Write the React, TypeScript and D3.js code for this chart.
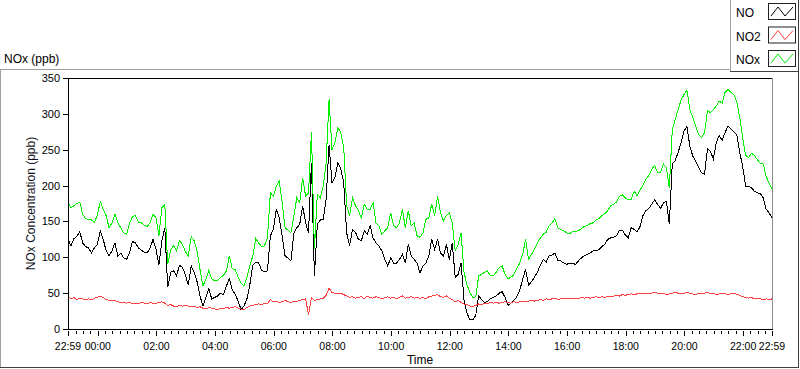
import React from 'react';
import * as d3 from 'd3';

// one sample every 6 minutes, 22:59 -> 22:59 next day
const startTime = new Date(Date.UTC(2015, 0, 1, 22, 59));
const stepMinutes = 6;

const seriesNames = ['NO', 'NO2', 'NOx'];
const seriesColors = ['#000000', '#ff4040', '#00f000'];

const noValues = [
  125, 116, 126, 129, 136, 120, 115, 113, 106, 113, 118, 137, 125, 109, 102, 109, 120, 102, 106, 99,
  97, 107, 122, 120, 113, 110, 107, 106, 113, 125, 111, 90, 123, 141, 58, 79, 81, 74, 89, 86,
  76, 61, 88, 79, 66, 46, 32, 44, 56, 42, 44, 46, 50, 48, 60, 70, 55, 48, 39, 27,
  32, 42, 62, 89, 93, 92, 82, 80, 81, 130, 139, 167, 155, 130, 102, 99, 95, 134, 141, 146,
  172, 148, 134, 232, 74, 146, 152, 153, 181, 257, 204, 211, 232, 223, 204, 134, 116, 139, 135, 125,
  123, 137, 132, 144, 127, 120, 116, 109, 97, 88, 99, 92, 92, 97, 104, 92, 118, 102, 97, 92,
  78, 88, 92, 102, 125, 111, 125, 106, 102, 118, 97, 120, 72, 76, 92, 41, 22, 13, 13, 19,
  46, 41, 37, 38, 42, 44, 46, 50, 52, 44, 33, 36, 40, 45, 54, 69, 83, 61, 66, 72,
  79, 89, 97, 93, 102, 103, 106, 96, 95, 92, 90, 92, 92, 90, 95, 99, 102, 104, 106, 109,
  109, 111, 115, 118, 125, 127, 128, 130, 138, 138, 131, 127, 141, 139, 135, 143, 158, 165, 168, 174,
  180, 174, 168, 176, 178, 146, 230, 235, 246, 260, 276, 282, 255, 241, 234, 225, 218, 216, 251, 248,
  237, 260, 270, 263, 274, 283, 279, 275, 271, 246, 227, 199, 199, 197, 192, 190, 189, 183, 167, 162,
  155,
];

const no2Values = [
  45, 42, 44, 41, 43, 42, 41, 42, 41, 43, 44, 46, 44, 41, 40, 39, 40, 38, 37, 37,
  36, 37, 35, 36, 35, 37, 36, 35, 37, 36, 36, 37, 38, 36, 33, 34, 32, 31, 33, 32,
  33, 32, 31, 32, 30, 31, 29, 28, 30, 29, 28, 27, 29, 28, 30, 29, 30, 31, 29, 28,
  27, 30, 32, 33, 34, 35, 34, 36, 35, 41, 38, 39, 37, 38, 40, 38, 37, 39, 38, 40,
  41, 42, 20, 44, 40, 41, 42, 43, 47, 57, 51, 50, 49, 50, 48, 46, 44, 45, 43, 44,
  45, 42, 46, 44, 43, 45, 44, 42, 44, 45, 43, 44, 42, 44, 46, 43, 44, 45, 43, 44,
  43, 44, 42, 45, 46, 47, 48, 45, 44, 46, 43, 41, 38, 40, 37, 35, 34, 32, 31, 33,
  35, 34, 36, 35, 37, 36, 37, 36, 37, 38, 37, 36, 38, 37, 38, 39, 38, 39, 40, 39,
  40, 41, 40, 42, 41, 42, 43, 41, 42, 43, 42, 43, 42, 43, 42, 44, 43, 44, 43, 44,
  45, 44, 45, 44, 46, 45, 46, 47, 46, 48, 47, 48, 49, 48, 49, 50, 49, 50, 49, 50,
  51, 50, 49, 50, 48, 49, 50, 51, 50, 49, 50, 51, 50, 49, 48, 50, 49, 50, 51, 49,
  50, 48, 49, 50, 49, 48, 49, 50, 48, 47, 45, 44, 43, 44, 42, 43, 42, 41, 42, 41,
  42,
];

const noxValues = [
  177, 169, 172, 175, 177, 160, 154, 153, 152, 149, 158, 178, 167, 158, 141, 148, 160, 148, 141, 134,
  132, 148, 157, 158, 149, 148, 145, 143, 148, 160, 155, 130, 169, 174, 90, 111, 116, 109, 123, 118,
  108, 102, 129, 123, 109, 83, 60, 69, 82, 70, 67, 68, 72, 75, 81, 102, 84, 83, 72, 64,
  60, 72, 88, 102, 126, 120, 115, 116, 127, 190, 185, 199, 206, 177, 141, 138, 134, 158, 183, 176,
  211, 185, 190, 275, 111, 188, 183, 199, 232, 320, 250, 260, 281, 274, 253, 172, 158, 183, 172, 165,
  155, 174, 167, 167, 176, 148, 144, 132, 137, 141, 162, 144, 141, 148, 167, 141, 165, 144, 148, 130,
  128, 134, 153, 155, 174, 158, 185, 162, 151, 158, 162, 148, 109, 118, 134, 79, 62, 51, 44, 45,
  74, 76, 79, 81, 74, 74, 79, 86, 88, 76, 70, 72, 76, 84, 92, 104, 125, 97, 104, 111,
  119, 127, 132, 135, 144, 148, 154, 141, 139, 137, 134, 133, 136, 136, 137, 140, 143, 144, 147, 148,
  152, 154, 158, 161, 165, 172, 174, 177, 185, 187, 183, 180, 181, 192, 186, 194, 200, 209, 214, 223,
  228, 218, 218, 230, 225, 197, 278, 292, 306, 319, 327, 333, 306, 295, 283, 271, 267, 274, 304, 302,
  306, 311, 318, 315, 330, 334, 330, 327, 317, 295, 267, 242, 239, 245, 242, 236, 231, 230, 213, 203,
  196,
];

const yTickValues = [0, 50, 100, 150, 200, 250, 300, 350];

const plot = { left: 68, right: 772, top: 78, bottom: 329 };
const font = '"Liberation Sans", Arial, sans-serif';

export default function App() {
  const series = [noValues, no2Values, noxValues];
  const timeAt = (i: number) => new Date(startTime.getTime() + i * stepMinutes * 60000);
  const endTime = timeAt(noValues.length - 1);

  const x = d3.scaleUtc().domain([startTime, endTime]).range([plot.left, plot.right]);
  const y = d3.scaleLinear().domain([0, 350]).range([plot.bottom, plot.top]);
  const line = d3.line<number>().x((_, i) => x(timeAt(i))).y(d => y(d));
  const fmt = d3.utcFormat('%H:%M');

  const majors = [startTime, ...d3.utcHour.every(2)!.range(startTime, endTime), endTime];
  const minors = d3.utcMinute.every(15)!
    .range(new Date(startTime.getTime() + 5 * 60000), endTime)
    .filter(t => !(t.getUTCMinutes() === 0 && t.getUTCHours() % 2 === 0));

  const axisY = plot.bottom + 0.5;

  return (
    <svg width={800} height={369} style={{ position: 'absolute', left: 0, top: 0, fontFamily: font }}>
      <rect width={800} height={369} fill="#ffffff" />

      {/* outer frame */}
      <line x1={0} x2={730} y1={69.5} y2={69.5} stroke="#a0a0a0" />
      <line x1={0.5} x2={0.5} y1={69} y2={368} stroke="#a0a0a0" />
      <line x1={0} x2={799} y1={367.5} y2={367.5} stroke="#404040" />
      <line x1={798.5} x2={798.5} y1={0} y2={368} stroke="#404040" />
      <text x={4} y={63} fontSize={12} fill="#000">NOx (ppb)</text>

      {/* legend */}
      <line x1={730.5} x2={730.5} y1={0} y2={72} stroke="#a0a0a0" />
      <line x1={730} x2={799} y1={71.5} y2={71.5} stroke="#404040" />
      {seriesNames.map((name, k) => {
        const top = 3 + k * 23.5;
        const bx = 768;
        return (
          <g key={name}>
            <text x={736} y={top + 14} fontSize={12} fill="#000">{name}</text>
            <rect x={bx + 0.5} y={top + 0.5} width={27} height={16} fill="#fff" stroke="#202020" />
            <polyline
              points={`${bx + 3},${top + 13} ${bx + 10},${top + 4} ${bx + 17},${top + 13} ${bx + 25},${top + 4}`}
              fill="none"
              stroke={seriesColors[k]}
            />
          </g>
        );
      })}

      {/* plot lines */}
      <defs>
        <clipPath id="plotClip">
          <rect x={plot.left} y={plot.top} width={plot.right - plot.left} height={plot.bottom - plot.top + 1} />
        </clipPath>
      </defs>
      <g clipPath="url(#plotClip)">
        {series.map((vals, k) => (
          <path key={k} d={line(vals) || ''} fill="none" stroke={seriesColors[k]} strokeWidth={1} shapeRendering="crispEdges" />
        ))}
      </g>

      {/* plot border */}
      <line x1={plot.left} x2={plot.right} y1={plot.top + 0.5} y2={plot.top + 0.5} stroke="#000" />
      <line x1={plot.right + 0.5} x2={plot.right + 0.5} y1={plot.top} y2={plot.bottom + 1} stroke="#8c8c8c" />
      <line x1={plot.left + 0.5} x2={plot.left + 0.5} y1={plot.top} y2={plot.bottom + 1} stroke="#000" />
      <line x1={plot.left} x2={plot.right + 1} y1={axisY} y2={axisY} stroke="#000" />

      {/* y axis */}
      {yTickValues.map(v => (
        <g key={v}>
          <line x1={63} x2={68} y1={Math.round(y(v)) + 0.5} y2={Math.round(y(v)) + 0.5} stroke="#000" />
          <text x={60} y={y(v) + 4} fontSize={11} textAnchor="end" fill="#000">{v}</text>
        </g>
      ))}
      <text
        transform={`translate(35,${(plot.top + plot.bottom) / 2}) rotate(-90)`}
        fontSize={12}
        textAnchor="middle"
        fill="#101020"
      >
        NOx Concentration (ppb)
      </text>

      {/* x axis */}
      {minors.map(t => (
        <line key={+t} x1={Math.round(x(t)) + 0.5} x2={Math.round(x(t)) + 0.5} y1={331} y2={334} stroke="#000" />
      ))}
      {majors.map((t, i) => (
        <g key={i}>
          <line x1={Math.round(x(t)) + 0.5} x2={Math.round(x(t)) + 0.5} y1={331} y2={336} stroke="#000" />
          <text x={x(t)} y={350} fontSize={10.5} textAnchor="middle" fill="#000">{fmt(t)}</text>
        </g>
      ))}
      <text x={420} y={364} fontSize={12} textAnchor="middle" fill="#000">Time</text>
    </svg>
  );
}
